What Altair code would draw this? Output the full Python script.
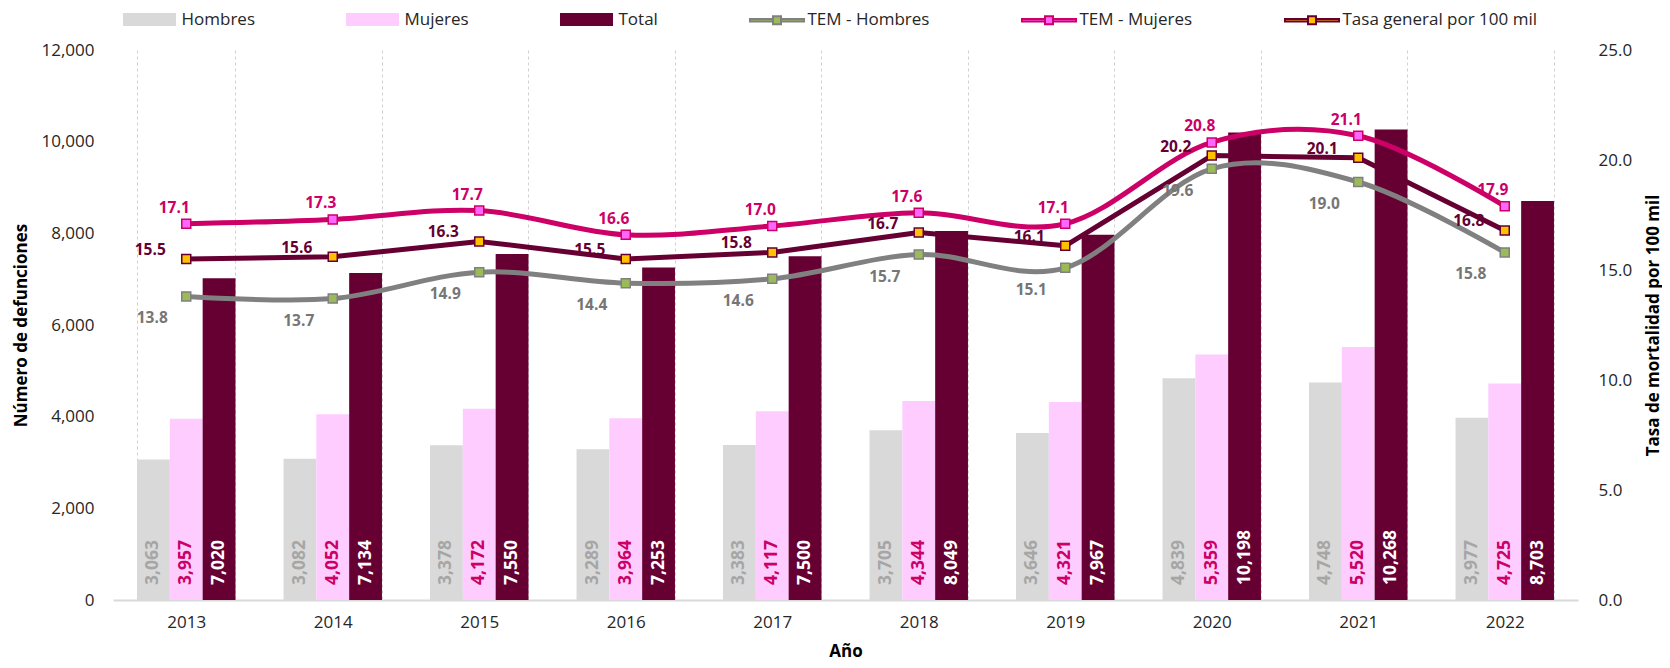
import altair as alt
import pandas as pd

years = ["2013", "2014", "2015", "2016", "2017", "2018", "2019", "2020", "2021", "2022"]
hombres = [3063, 3082, 3378, 3289, 3383, 3705, 3646, 4839, 4748, 3977]
mujeres = [3957, 4052, 4172, 3964, 4117, 4344, 4321, 5359, 5520, 4725]
total = [7020, 7134, 7550, 7253, 7500, 8049, 7967, 10198, 10268, 8703]
tem_h = [13.8, 13.7, 14.9, 14.4, 14.6, 15.7, 15.1, 19.6, 19.0, 15.8]
tem_m = [17.1, 17.3, 17.7, 16.6, 17.0, 17.6, 17.1, 20.8, 21.1, 17.9]
tasa = [15.5, 15.6, 16.3, 15.5, 15.8, 16.7, 16.1, 20.2, 20.1, 16.8]

bar_series = ["Hombres", "Mujeres", "Total"]
line_series = ["TEM - Hombres", "TEM - Mujeres", "Tasa general por 100 mil"]
all_series = bar_series + line_series

fill_colors = ["#d9d9d9", "#ffccff", "#660033", "#9bbb59", "#ff66ff", "#ffc000"]
stroke_colors = ["#d9d9d9", "#ffccff", "#660033", "#808080", "#cc0066", "#660033"]
bar_label_colors = ["#a6a6a6", "#cc0066", "#ffffff"]
line_label_colors = ["#767676", "#cc0066", "#660033"]

FONT = "Open Sans"

rect_path = "M-1.5,-1.1L8.7,-1.1L8.7,1.1L-1.5,1.1Z"
line_path = ("M-1.5,-0.24L3.1,-0.24L3.1,0.24L-1.5,0.24Z "
             "M3.1,-0.8L4.7,-0.8L4.7,0.8L3.1,0.8Z "
             "M4.7,-0.24L9.3,-0.24L9.3,0.24L4.7,0.24Z")
shape_paths = [rect_path] * 3 + [line_path] * 3

bars_df = pd.DataFrame({
    "year": years * 3,
    "series": [s for s in bar_series for _ in years],
    "value": hombres + mujeres + total,
})
lines_df = pd.DataFrame({
    "year": years * 3,
    "series": [s for s in line_series for _ in years],
    "rate": tem_h + tem_m + tasa,
})
legend_df = pd.DataFrame({"series": all_series})

fill_scale = alt.Scale(domain=all_series, range=fill_colors)
stroke_scale = alt.Scale(domain=all_series, range=stroke_colors)
shape_scale = alt.Scale(domain=all_series, range=shape_paths)
x_scale = alt.Scale(domain=years, paddingInner=0.328, paddingOuter=0.164)
xoff_scale = alt.Scale(domain=bar_series)
yl_scale = alt.Scale(domain=[0, 12000])
yr_scale = alt.Scale(domain=[0, 25])

x_axis = alt.Axis(
    title="Año", tickBand="extent", grid=True, gridDash=[3, 3], gridColor="#d0d0d0",
    gridWidth=1, ticks=False, domainColor="#d9d9d9", domainWidth=2, labelAngle=0,
    labelPadding=14, titleX=732.5, titleY=51, titleBaseline="middle", titleAlign="center",
)
x_enc = alt.X("year:N", scale=x_scale, axis=x_axis)

left_axis = alt.Axis(
    orient="left", values=list(range(0, 12001, 2000)),
    labelExpr="format(datum.value, ',')", domain=False,
    ticks=False, grid=False, labelPadding=19, title="Número de defunciones",
    titleAngle=270, titleX=-92, titleY=275, titleAlign="center", titleBaseline="middle",
)
right_axis = alt.Axis(
    orient="right", values=[0, 5, 10, 15, 20, 25],
    labelExpr="format(datum.value, '.1f')", domain=False,
    ticks=False, grid=False, labelPadding=20, title="Tasa de mortalidad por 100 mil",
    titleAngle=270, titleX=75, titleY=275, titleAlign="center", titleBaseline="middle",
)

legend_props = dict(
    orient="none", legendX=10, legendY=-39, direction="horizontal", columns=6,
    title=None, symbolSize=100, symbolStrokeWidth=2, labelOffset=41.5,
    columnPadding=88, labelFontSize=17, labelFont=FONT, labelColor="#262626",
    labelLimit=400, padding=0, offset=0,
)


def fill_enc():
    return alt.Fill("series:N", scale=fill_scale, legend=alt.Legend(**legend_props))


def stroke_enc():
    return alt.Stroke("series:N", scale=stroke_scale, legend=alt.Legend(**legend_props))


bars = alt.Chart(bars_df).mark_bar().encode(
    x=x_enc,
    xOffset=alt.XOffset("series:N", scale=xoff_scale),
    y=alt.Y("value:Q", scale=yl_scale, axis=left_axis),
    fill=fill_enc(),
)

bar_texts = []
for s, c in zip(bar_series, bar_label_colors):
    bar_texts.append(
        alt.Chart(bars_df).transform_filter(alt.datum.series == s)
        .transform_calculate(base="0")
        .mark_text(
            angle=270, align="left", baseline="middle", dx=15, font=FONT,
            fontSize=17.5, fontWeight="bold", color=c,
        ).encode(
            x=x_enc,
            xOffset=alt.XOffset("series:N", scale=xoff_scale),
            y=alt.Y("base:Q", scale=yl_scale, axis=left_axis),
            text=alt.Text("value:Q", format=","),
        )
    )

left = alt.layer(bars, *bar_texts)

smooth_lines = alt.Chart(lines_df).transform_filter(
    alt.FieldOneOfPredicate(field="series", oneOf=["TEM - Hombres", "TEM - Mujeres"])
).mark_line(interpolate="cardinal", strokeWidth=5, strokeCap="round").encode(
    x=x_enc,
    y=alt.Y("rate:Q", scale=yr_scale, axis=right_axis),
    stroke=stroke_enc(),
    detail="series:N",
)
straight_line = alt.Chart(lines_df).transform_filter(
    alt.datum.series == "Tasa general por 100 mil"
).mark_line(strokeWidth=5, strokeCap="round", strokeJoin="round").encode(
    x=x_enc,
    y=alt.Y("rate:Q", scale=yr_scale, axis=right_axis),
    stroke=stroke_enc(),
)
markers = alt.Chart(lines_df).mark_point(
    shape="square", filled=True, size=81, strokeWidth=1.5, opacity=1
).encode(
    x=x_enc,
    y=alt.Y("rate:Q", scale=yr_scale, axis=right_axis),
    fill=fill_enc(),
    stroke=stroke_enc(),
)

label_offsets = {
    "TEM - Hombres": (-34, 22),
    "TEM - Mujeres": (-12, -16),
    "Tasa general por 100 mil": (-36, -9),
}
line_texts = []
for s, c in zip(line_series, line_label_colors):
    dx, dy = label_offsets[s]
    line_texts.append(
        alt.Chart(lines_df).transform_filter(alt.datum.series == s).mark_text(
            align="center", baseline="middle", dx=dx, dy=dy, font=FONT,
            fontSize=15.5, fontWeight="bold", color=c,
        ).encode(
            x=x_enc,
            y=alt.Y("rate:Q", scale=yr_scale, axis=right_axis),
            text=alt.Text("rate:Q", format=".1f"),
        )
    )

legend_layer = alt.Chart(legend_df).transform_filter("false").mark_point(
    filled=True, opacity=1
).encode(
    fill=fill_enc(),
    stroke=stroke_enc(),
    shape=alt.Shape("series:N", scale=shape_scale, legend=alt.Legend(**legend_props)),
)

right = alt.layer(smooth_lines, straight_line, markers, *line_texts, legend_layer)

chart = alt.layer(left, right).resolve_scale(y="independent").properties(
    width=1465,
    height=550,
    autosize=alt.AutoSizeParams(type="none"),
    padding={"left": 105, "top": 42, "right": 84, "bottom": 60},
    background="white",
).configure_view(strokeWidth=0).configure_axis(
    labelFont=FONT, labelFontSize=17, labelColor="#262626",
    titleFont=FONT, titleFontSize=17, titleFontWeight="bold", titleColor="#000000",
)

chart.save("out.html", embed_options={"renderer": "svg", "actions": False})
